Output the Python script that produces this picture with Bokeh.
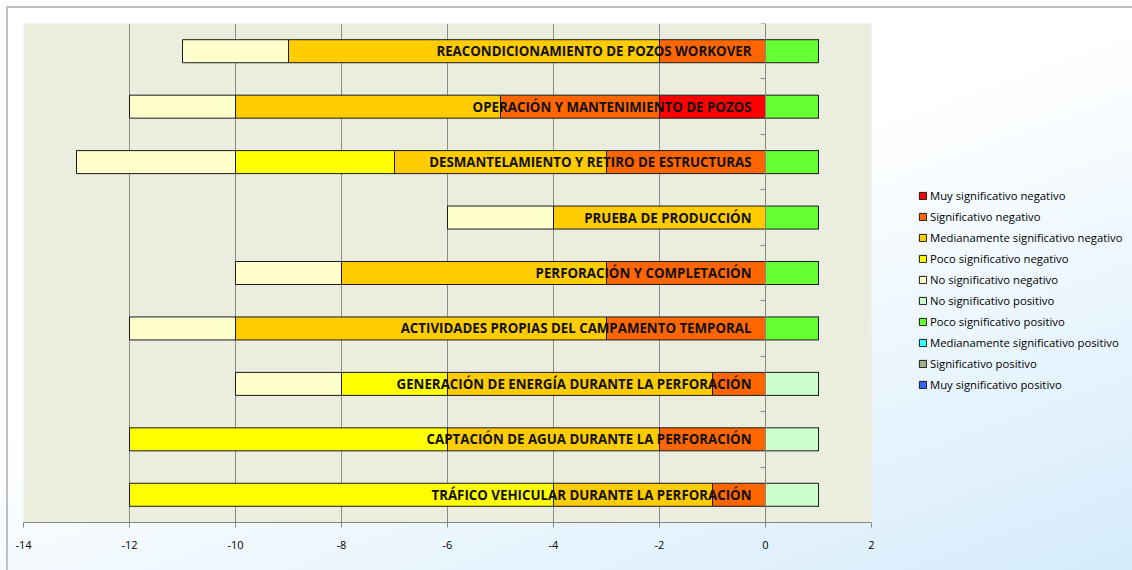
import numpy as np
from bokeh.plotting import figure
from bokeh.models import (ColumnDataSource, Range1d, FixedTicker, Legend, LegendItem,
                          LinearAxis, PrintfTickFormatter)
from bokeh.core.properties import value
from bokeh.embed import file_html
from bokeh.resources import INLINE

categories = [
    "REACONDICIONAMIENTO DE POZOS WORKOVER",
    "OPERACIÓN Y MANTENIMIENTO DE POZOS",
    "DESMANTELAMIENTO Y RETIRO DE ESTRUCTURAS",
    "PRUEBA DE PRODUCCIÓN",
    "PERFORACIÓN Y COMPLETACIÓN",
    "ACTIVIDADES PROPIAS DEL CAMPAMENTO TEMPORAL",
    "GENERACIÓN DE ENERGÍA DURANTE LA PERFORACIÓN",
    "CAPTACIÓN DE AGUA DURANTE LA PERFORACIÓN",
    "TRÁFICO VEHICULAR DURANTE LA PERFORACIÓN",
]

muy_sig_neg = [0, -2, 0, 0, 0, 0, 0, 0, 0]
sig_neg = [-2, -3, -3, 0, -3, -3, -1, -2, -1]
med_neg = [-7, -5, -4, -4, -5, -7, -5, -4, -3]
poco_neg = [0, 0, -3, 0, 0, 0, -2, -6, -8]
no_sig_neg = [-2, -2, -3, -2, -2, -2, -2, 0, 0]
no_sig_pos = [0, 0, 0, 0, 0, 0, 1, 1, 1]
poco_pos = [1, 1, 1, 1, 1, 1, 0, 0, 0]
med_pos = [0, 0, 0, 0, 0, 0, 0, 0, 0]
sig_pos = [0, 0, 0, 0, 0, 0, 0, 0, 0]
muy_sig_pos = [0, 0, 0, 0, 0, 0, 0, 0, 0]

series_names = [
    "Muy significativo negativo",
    "Significativo negativo",
    "Medianamente significativo negativo",
    "Poco significativo negativo",
    "No significativo negativo",
    "No significativo positivo",
    "Poco significativo positivo",
    "Medianamente significativo positivo",
    "Significativo positivo",
    "Muy significativo positivo",
]
series_colors = ["#FF0000", "#FF6600", "#FFCC00", "#FFFF00", "#FFFFCC",
                 "#CCFFCC", "#66FF33", "#33FFFF", "#9FAF86", "#3366FF"]

x_ticks = [-14, -12, -10, -8, -6, -4, -2, 0, 2]

n = len(categories)
ypos = (np.arange(n)[::-1] + 0.5).tolist()

keys = ["muy_sig_neg", "sig_neg", "med_neg", "poco_neg", "no_sig_neg",
        "no_sig_pos", "poco_pos", "med_pos", "sig_pos", "muy_sig_pos"]
vals = [muy_sig_neg, sig_neg, med_neg, poco_neg, no_sig_neg,
        no_sig_pos, poco_pos, med_pos, sig_pos, muy_sig_pos]
data = {k: v for k, v in zip(keys, vals)}
data["y"] = ypos
data["cat"] = categories
source = ColumnDataSource(data)

p = figure(frame_width=848, frame_height=499, output_backend="svg", toolbar_location=None,
           x_range=Range1d(-14, 2), y_range=Range1d(0, n),
           min_border_left=23, min_border_top=23, min_border_bottom=48,
           min_border_right=10, y_axis_location=None)

p.background_fill_color = "#EBEDDE"
p.border_fill_color = None
p.outline_line_color = None
p.styles = {"background":
            "linear-gradient(#c0c0c0, #c0c0c0) 6px 6px / 100% 2px no-repeat, "
            "linear-gradient(#c0c0c0, #c0c0c0) 6px 6px / 2px 100% no-repeat, "
            "linear-gradient(to bottom right, #ffffff 38%, #c9e6fa 100%)"}

bar_h = 0.415
neg_r = p.hbar_stack(keys[:5], y="y", height=bar_h, color=series_colors[:5],
                     line_color="#1a1a1a", line_width=1, source=source)
pos_r = p.hbar_stack(keys[5:], y="y", height=bar_h, color=series_colors[5:],
                     line_color="#1a1a1a", line_width=1, source=source)
renderers = neg_r + pos_r

p.text(x=0, y="y", text="cat", source=source, x_offset=-14,
       text_align="right", text_baseline="middle",
       text_font=value("Open Sans"), text_font_style="bold",
       text_font_size="13.3px", text_color="#111111")

# x axis
xa = p.xaxis[0]
xa.ticker = FixedTicker(ticks=x_ticks)
xa.formatter = PrintfTickFormatter(format="%d")
xa.axis_line_color = "#868686"
xa.major_tick_line_color = "#868686"
xa.major_tick_out = 5
xa.major_tick_in = 0
xa.minor_tick_line_color = None
xa.major_label_text_font = "Open Sans"
xa.major_label_text_font_size = "11px"
xa.major_label_text_color = "#000000"
xa.major_label_standoff = 13

p.xgrid.ticker = FixedTicker(ticks=x_ticks)
p.xgrid.grid_line_color = "#8C8C8C"
p.ygrid.grid_line_color = None

# vertical axis at zero with category boundary ticks
ya = LinearAxis(ticker=FixedTicker(ticks=list(range(n + 1))), fixed_location=0)
ya.axis_line_color = "#868686"
ya.major_tick_line_color = "#868686"
ya.major_tick_out = 5
ya.major_tick_in = 0
ya.minor_tick_line_color = None
ya.major_label_overrides = {i: "" for i in range(n + 1)}
ya.major_label_standoff = 0
p.add_layout(ya, "left")

items = [LegendItem(label=name, renderers=[r]) for name, r in zip(series_names, renderers)]
legend = Legend(items=items, location=(47, 130), orientation="vertical",
                glyph_width=9, glyph_height=9, label_standoff=3,
                label_height=15, spacing=6, padding=5, margin=0,
                label_text_font="Open Sans", label_text_font_size="11.3px",
                label_text_color="#000000", border_line_color=None,
                background_fill_alpha=0)
p.add_layout(legend, "right")

open("out.html", "w").write(file_html(p, INLINE))
